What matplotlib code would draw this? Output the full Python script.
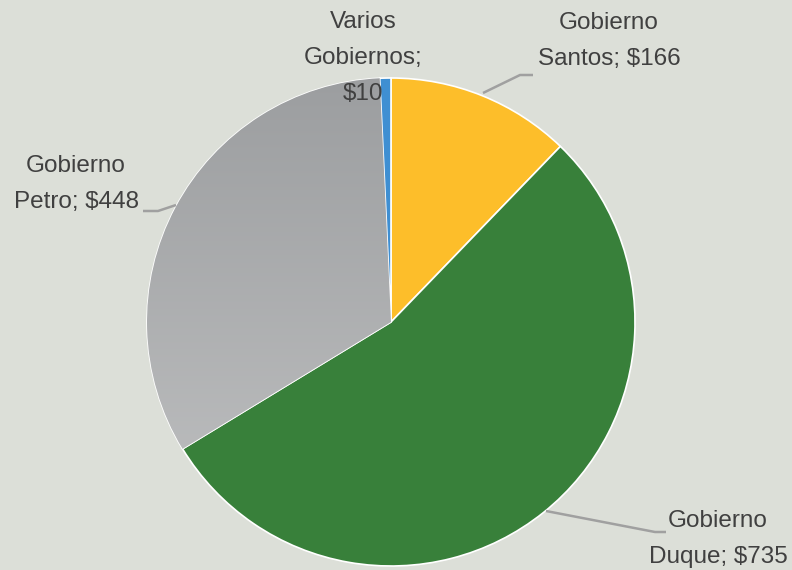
import matplotlib
matplotlib.use("Agg")
import matplotlib.pyplot as plt
import numpy as np
from matplotlib.colors import LinearSegmentedColormap

# Datos: montos por gobierno
gobiernos = ["Santos", "Duque", "Petro", "Varios"]
valores = [166, 735, 448, 10]
etiquetas = ["Gobierno\nSantos; $166", "Gobierno\nDuque; $735",
             "Gobierno\nPetro; $448", "Varios\nGobiernos;\n$10"]
colores = ["#FDBE2A", "#38803A", "#B0B2B3", "#3F8FD2"]

FONDO = "#DCDFD8"
TEXTO = "#404040"
fuente = "Liberation Sans"

W, H = 792, 570
fig = plt.figure(figsize=(W / 100, H / 100), dpi=100, facecolor=FONDO)
ax = fig.add_axes([0, 0, 1, 1])
ax.set_facecolor(FONDO)

cx, cy, r = 391, H - 322, 244
wedges, _ = ax.pie(valores, colors=colores, startangle=90, counterclock=False,
                   center=(cx, cy), radius=r,
                   wedgeprops=dict(edgecolor="white", linewidth=1.2))

# degradado en la porción de Petro (oscuro arriba, claro abajo)
cmap = LinearSegmentedColormap.from_list("gris", ["#C1C2C3", "#9C9EA0"])
grad = np.linspace(0, 1, 256).reshape(-1, 1)
img = ax.imshow(grad, cmap=cmap, origin="lower", aspect="auto",
                extent=(cx - r, cx + r, cy - r, cy + r), zorder=1.5)
img.set_clip_path(wedges[2])
wedges[2].set_zorder(1)

ax.set_xlim(0, W)
ax.set_ylim(0, H)
ax.axis("off")

# posiciones de etiquetas y líneas guía (pixeles, y desde arriba)
pos_etiquetas = [(609, 41), (718, 539), (76, 184), (363, 58)]
guias = [
    [(483, 93), (520, 75), (533, 75)],
    [(546, 511), (655, 532), (666, 532)],
    [(176, 205), (158, 211), (143, 211)],
    None,
]

for txt, (x, y), guia in zip(etiquetas, pos_etiquetas, guias):
    ax.text(x, H - y, txt, ha="center", va="center", fontsize=17.5,
            family=fuente, color=TEXTO, linespacing=1.85, zorder=5)
    if guia:
        xs = [p[0] for p in guia]
        ys = [H - p[1] for p in guia]
        ax.plot(xs, ys, color="#A0A0A0", lw=1.8, zorder=4, solid_capstyle="butt")

fig.savefig("out.png", dpi=100, facecolor=FONDO)
